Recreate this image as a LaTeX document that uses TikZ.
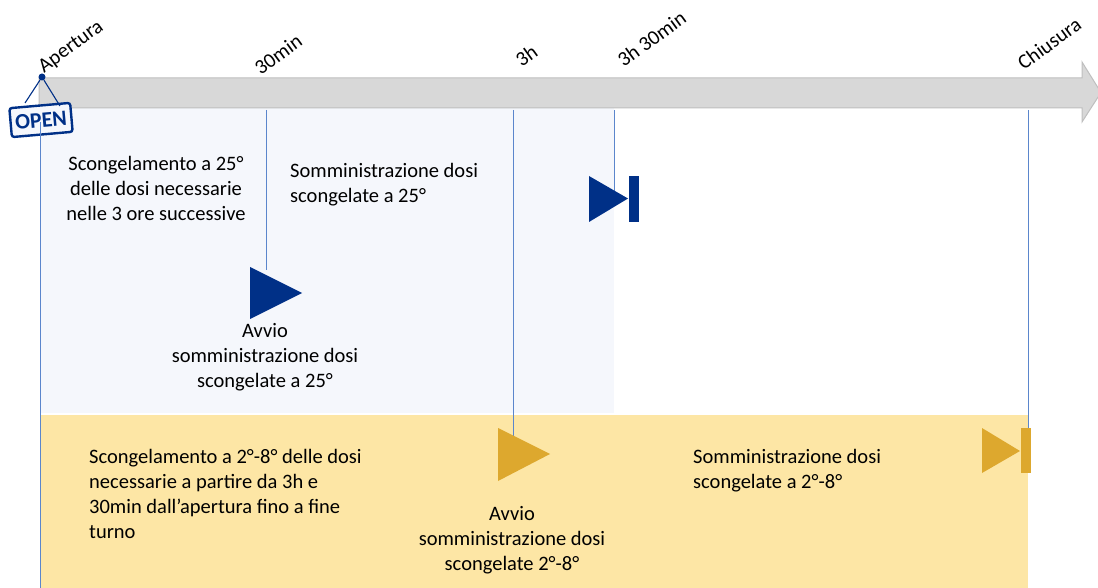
\documentclass[tikz,border=0pt]{standalone}
\usepackage{fontspec}
\setmainfont{Carlito}
\definecolor{navy}{HTML}{003087}
\definecolor{gold}{HTML}{DDA82E}
\definecolor{lpale}{HTML}{F5F7FC}
\definecolor{ypale}{HTML}{FDE6A5}
\definecolor{vline}{HTML}{5B86CC}
\definecolor{barfill}{HTML}{D8D8D8}
\definecolor{baredge}{HTML}{BFBFBF}
\tikzset{
  txt/.style={font=\fontsize{20.5}{25}\selectfont,align=center,inner sep=0pt,text=black},
  txtl/.style={txt,align=left,anchor=north west},
  tick/.style={font=\fontsize{20.6}{22}\selectfont,rotate=36,anchor=south west,inner sep=0pt,text=black},
  vl/.style={draw=vline,line width=0.9pt},
  tribl/.style={fill=navy,draw=none},
  trigo/.style={fill=gold,draw=none},
}
\begin{document}
\begin{tikzpicture}[x=1pt,y=-1pt]
\useasboundingbox (0,0) rectangle (1098,588);
\clip (0,0) rectangle (1098,588);
% panels
\fill[lpale] (40,108) rectangle (614,413);
\fill[ypale] (40,415) rectangle (1028,588);
% time bar
\draw[fill=barfill,draw=baredge,line width=1pt,line join=miter]
 (39,78) -- (1082,78) -- (1082,62) -- (1101,92.5) -- (1082,122) -- (1082,108) -- (39,108) -- cycle;
% anchors
\coordinate (a0) at (40,122); \coordinate (a1) at (40,588);
\coordinate (b0) at (266,110); \coordinate (b1) at (266,270);
\coordinate (c0) at (513,110); \coordinate (c1) at (513,436);
\coordinate (d0) at (614,110); \coordinate (d1) at (614,200);
\coordinate (e0) at (1028,110); \coordinate (e1) at (1028,430);
\draw[vl] (b0) -- (b1);
\draw[vl] (c0) -- (c1);
\draw[vl] (d0) -- (d1);
\draw[vl] (e0) -- (e1);
% tick labels
\node[tick] (lapertura) at (46,76) {Apertura};
\node[tick] (l30) at (261,76) {30min};
\node[tick] (l3h) at (522,68) {3h};
\node[tick] (l3h30) at (624,68) {3h 30min};
\node[tick] (lchiusura) at (1024,71) {Chiusura};
% open sign
\node[circle,fill=navy,inner sep=0pt,minimum size=7pt] (pin) at (42,77) {};
\node[draw=navy,line width=2.4pt,rounded corners=2.5pt,rotate=5,minimum width=61pt,minimum height=29pt,inner sep=0pt,font=\fontsize{22}{22}\selectfont\bfseries,text=navy,fill=lpale] (open) at (41,120) {OPEN};
\draw[navy,line width=1.1pt] (pin) -- (25,103);
\draw[navy,line width=1.1pt] (pin) -- (60,106);
\draw[vl] (a0) -- (a1);
% triangles
\fill[tribl] (250,267) -- (302,293) -- (250,319) -- cycle;
\fill[tribl] (589,176) -- (628,198.5) -- (589,222) -- cycle;
\fill[tribl] (629,176) rectangle (639,222);
\fill[trigo] (498,428) -- (550,454) -- (498,481) -- cycle;
\fill[trigo] (982,428) -- (1020,451) -- (982,473) -- cycle;
\fill[trigo] (1021,428) rectangle (1031,473);
% texts
\node[txt] (t1) at (156,188) {Scongelamento a 25°\\delle dosi necessarie\\nelle 3 ore successive};
\node[txtl] (t2) at (290,163) {Somministrazione dosi\\scongelate a 25°};
\node[txt] (t3) at (265,357) {Avvio\\somministrazione dosi\\scongelate a 25°};
\node[txtl] (t4) at (89,449) {Scongelamento a 2°-8° delle dosi\\necessarie a partire da 3h e\\30min dall’apertura fino a fine\\turno};
\node[txt] (t5) at (512,540) {Avvio\\somministrazione dosi\\scongelate 2°-8°};
\node[txtl] (t6) at (693,449) {Somministrazione dosi\\scongelate a 2°-8°};
\end{tikzpicture}
\end{document}
